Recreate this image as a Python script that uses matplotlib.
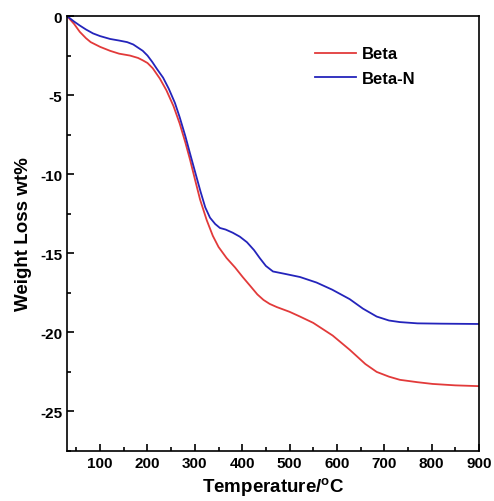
import matplotlib
matplotlib.use("Agg")
import matplotlib.pyplot as plt
from matplotlib.ticker import MultipleLocator

plt.rcParams['font.family'] = ['Liberation Sans', 'DejaVu Sans']
plt.rcParams['font.weight'] = 'bold'
plt.rcParams['mathtext.fontset'] = 'custom'
plt.rcParams['mathtext.rm'] = 'Liberation Sans:bold'
plt.rcParams['mathtext.bf'] = 'Liberation Sans:bold'

# Beta
temp_beta = [30, 45, 57, 70, 80, 100, 121, 140, 163, 180, 190, 200, 211, 226, 240,
             255, 268, 280, 290, 300, 311, 325, 338, 350, 367, 385, 401, 418, 432,
             445, 458, 473, 500, 522, 550, 591, 627, 660, 684, 710, 733, 770, 802, 850, 900]
loss_beta = [0, -0.5, -1.0, -1.4, -1.65, -1.95, -2.2, -2.38, -2.5, -2.65, -2.8, -2.97,
             -3.3, -3.95, -4.7, -5.7, -6.8, -8.0, -9.1, -10.3, -11.6, -12.9, -13.9, -14.6,
             -15.3, -15.9, -16.5, -17.1, -17.6, -17.95, -18.2, -18.4, -18.7, -19.0, -19.4,
             -20.2, -21.1, -22.0, -22.5, -22.8, -23.0, -23.15, -23.26, -23.35, -23.4]

# Beta-N
temp_betan = [30, 45, 57, 70, 85, 100, 121, 140, 157, 170, 180, 190, 200, 210, 220, 233,
              245, 258, 268, 280, 289, 300, 312, 322, 332, 343, 353, 365, 380, 395, 410,
              425, 437, 450, 465, 490, 522, 557, 590, 627, 655, 684, 710, 733, 770, 820, 900]
loss_betan = [0, -0.35, -0.6, -0.85, -1.1, -1.27, -1.45, -1.55, -1.65, -1.8, -2.0, -2.2,
              -2.5, -2.9, -3.35, -3.9, -4.6, -5.5, -6.4, -7.6, -8.6, -9.8, -11.1, -12.1,
              -12.75, -13.15, -13.4, -13.5, -13.7, -13.95, -14.3, -14.8, -15.3, -15.8,
              -16.15, -16.3, -16.5, -16.85, -17.3, -17.9, -18.5, -19.0, -19.25, -19.35,
              -19.43, -19.45, -19.47]

fig = plt.figure(figsize=(4.94, 5.02), dpi=100)
ax = fig.add_axes([0.1356, 0.0996, 0.834, 0.8665])

ax.plot(temp_beta, loss_beta, color='#e23a3a', lw=1.3, label='Beta')
ax.plot(temp_betan, loss_betan, color='#2424bb', lw=1.3, label='Beta-N')

ax.set_xlim(30, 900)
ax.set_ylim(-27.5, 0)
ax.xaxis.set_minor_locator(MultipleLocator(50))
ax.yaxis.set_minor_locator(MultipleLocator(2.5))
ax.set_xticks(range(100, 901, 100))
ax.set_xticklabels([str(t) for t in range(100, 901, 100)], fontweight='bold')
ax.set_yticks([0, -5, -10, -15, -20, -25])
ax.set_yticklabels(['0', '-5', '-10', '-15', '-20', '-25'], fontweight='bold')

ax.tick_params(which='both', direction='in', top=False, right=False,
               labelsize=11, width=1.2)
ax.tick_params(which='major', length=5)
ax.tick_params(which='minor', length=3)
for s in ax.spines.values():
    s.set_linewidth(1.2)

ax.set_xlabel(r'Temperature/$^{\mathregular{o}}$C', fontsize=13.5, fontweight='bold', labelpad=4)
ax.set_ylabel('Weight Loss wt%', fontsize=13.5, fontweight='bold', labelpad=6)

ax.legend(loc='upper right', bbox_to_anchor=(0.845, 0.93), frameon=False,
          fontsize=12, handlelength=2.5, handletextpad=0.3, labelspacing=0.55,
          borderaxespad=0, borderpad=0)

fig.savefig('out.png', dpi=100)
